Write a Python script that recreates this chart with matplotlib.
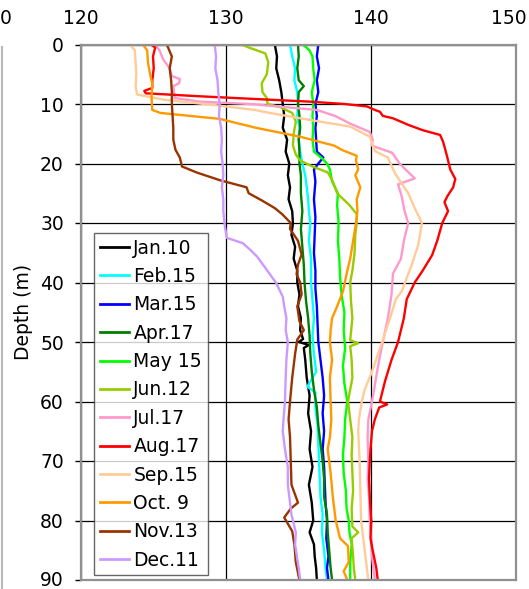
"""
Perfil de profundidade (0-90 m) para 12 datas de medicao.
Gera out.png (529x589).
"""

import numpy as np
import matplotlib
matplotlib.use("Agg")
import matplotlib.pyplot as plt
from matplotlib.lines import Line2D
from matplotlib.transforms import offset_copy

# --- DADOS: (profundidade m, valor) ---
JAN = [(0, 133.4), (2, 133.55), (4, 133.5), (6, 133.7), (8, 133.85), (10, 133.95), (12, 134.05),
       (14, 133.95), (16, 134.25), (18, 134.15), (20, 134.4), (22, 134.3), (24, 134.45), (26, 134.35),
       (28, 134.6), (30, 134.65), (32, 134.55), (34, 134.8), (36, 134.7), (38, 134.95), (40, 134.95),
       (42, 135.1), (44, 135.0), (46, 135.2), (48, 135.15), (49.5, 135.35), (50, 135.05), (50.5, 135.75),
       (51, 135.4), (53, 135.5), (56, 135.6), (59, 135.8), (62, 135.7), (65, 135.9), (68, 135.8),
       (71, 136.0), (74, 135.75), (77, 135.95), (80, 136.05), (82, 135.8), (84, 136.1), (86, 136.15),
       (88, 136.25), (90, 136.3)]
FEB = [(0, 134.45), (2, 134.6), (4, 134.8), (6, 134.75), (8, 134.95), (10, 135.0), (12, 134.95),
       (14, 135.1), (16, 135.05), (18, 135.15), (20, 135.3), (22, 135.5), (24, 135.6), (26, 135.7),
       (28, 135.75), (30, 135.85), (33, 135.75), (36, 135.9), (40, 135.9), (43, 136.0), (46, 136.1),
       (49, 136.0), (52, 136.1), (55, 136.25), (57.5, 135.65), (58.5, 136.2), (61, 136.2), (64, 136.35),
       (67, 136.4), (70, 136.45), (73, 136.5), (76, 136.55), (79, 136.7), (82, 136.65), (85, 136.8),
       (88, 136.9), (90, 137.0)]
MAR = [(0, 136.4), (2, 136.3), (4, 136.45), (6, 136.3), (8, 136.4), (10, 136.2), (12, 136.3),
       (14, 136.2), (16, 136.25), (18, 136.3), (19, 136.75), (20, 136.4), (21, 136.1), (23, 136.2),
       (26, 136.1), (29, 136.2), (32, 136.15), (35, 136.1), (38, 136.2), (41, 136.2), (44, 136.3),
       (47, 136.35), (50, 136.4), (53, 136.55), (56, 136.7), (59, 136.8), (62, 136.7), (65, 136.8),
       (68, 136.7), (71, 136.8), (74, 136.85), (77, 136.9), (80, 137.0), (83, 136.95), (86, 137.1),
       (88, 137.0), (90, 137.1)]
APR = [(0, 135.0), (2, 135.05), (4, 134.95), (6, 135.05), (7, 135.4), (8, 135.05), (10, 135.0),
       (12, 135.1), (14, 135.15), (16, 135.05), (18, 135.1), (20, 135.1), (22, 135.2), (25, 135.2),
       (28, 135.3), (31, 135.2), (34, 135.3), (37, 135.4), (40, 135.45), (43, 135.55), (46, 135.7),
       (49, 135.8), (52, 135.85), (55, 135.95), (58, 136.1), (61, 136.3), (64, 136.4), (67, 136.55),
       (70, 136.7), (73, 136.8), (76, 136.8), (79, 137.0), (82, 137.05), (85, 137.15), (88, 137.25),
       (90, 137.35)]
MAY = [(0, 135.35), (1, 135.8), (2, 136.0), (4, 136.05), (6, 136.15), (8, 135.95), (10, 136.05),
       (12, 136.0), (14, 136.05), (16, 136.0), (18, 136.1), (19, 136.6), (20, 137.0), (21, 137.2),
       (23, 137.35), (25, 137.75), (27, 137.7), (30, 137.8), (33, 137.75), (36, 137.85), (39, 137.9),
       (42, 138.0), (45, 138.2), (48, 138.15), (51, 138.25), (54, 138.1), (57, 138.2), (60, 138.4),
       (63, 138.25), (66, 138.2), (69, 138.1), (72, 138.15), (75, 138.3), (78, 138.35), (80, 138.5),
       (82, 138.55), (84, 138.7), (87, 138.6), (90, 138.6)]
JUN = [(0, 131.1), (0.5, 131.6), (1.5, 132.75), (3, 132.95), (5, 132.85), (6.5, 132.5), (8, 132.55),
       (9, 132.85), (10, 132.9), (10.5, 133.75), (11.5, 134.6), (13, 134.85), (15, 134.7), (17, 134.65),
       (18.5, 134.85), (19.5, 135.15), (20.5, 136.0), (21.5, 137.05), (23, 137.4), (25, 137.7),
       (27, 138.55), (28.5, 139.05), (30, 139.05), (32, 138.95), (35, 138.9), (38, 138.75), (40, 138.6),
       (43, 138.65), (46, 138.75), (49.7, 138.6), (50.2, 139.15), (50.7, 138.6), (53, 138.7),
       (56, 138.75), (60, 138.45), (63, 138.6), (66, 138.75), (69, 138.7), (72, 138.75), (75, 138.8),
       (78, 138.7), (81, 138.75), (82, 139.15), (83, 138.7), (86, 138.8), (88, 138.85), (90, 138.95)]
JUL = [(0, 125.15), (1, 125.45), (2.5, 125.7), (4, 126.15), (5.3, 126.3), (5.8, 126.85), (6.5, 126.8),
       (7, 126.4), (8, 126.45), (9, 126.5), (9.6, 128.2), (10, 131.7), (10.5, 134.0), (11, 136.3),
       (12, 137.55), (13.3, 138.6), (14.7, 139.95), (16, 140.15), (17, 140.1), (18.2, 141.5), (20, 142.0),
       (22.5, 143.05), (23.5, 141.9), (25.5, 142.15), (28, 142.35), (30, 142.6), (33, 142.3),
       (36, 142.1), (38.5, 141.55), (42, 141.45), (46, 141.2), (50, 140.85), (53, 140.6), (55, 140.45),
       (58, 140.25), (60, 140.1), (63, 139.85), (66, 139.8), (70, 139.85), (73, 139.8), (76, 139.9),
       (80, 139.95), (83, 140.05), (86, 140.1), (88, 140.2), (90, 140.3)]
AUG = [(0, 124.85), (0.5, 125.15), (2, 125.0), (4, 125.05), (6, 124.95), (7.3, 124.95), (7.8, 124.4),
       (8.2, 124.5), (8.7, 128.2), (9.2, 132.4), (9.6, 135.8), (10, 138.2), (10.4, 139.75), (11, 140.3),
       (11.3, 140.65), (12, 140.85), (12.4, 141.55), (13.5, 142.6), (14.4, 143.6), (15.2, 144.8),
       (16.3, 145.0), (17.6, 145.15), (19, 145.3), (21, 145.5), (22.6, 145.85), (24, 145.7),
       (25.5, 145.3), (26.5, 145.1), (28, 145.35), (30, 144.95), (33, 144.6), (35.4, 144.25),
       (38, 143.6), (40, 143.05), (42.8, 142.5), (46, 142.3), (50, 141.9), (53, 141.45), (56.6, 141.0),
       (60, 140.65), (60.5, 141.15), (61, 140.6), (63, 140.3), (65, 140.1), (68, 140.0), (70, 139.95),
       (73, 139.9), (76, 139.95), (80, 140.05), (83, 140.0), (85, 140.15), (88, 140.4), (90, 140.5)]
SEP = [(0, 123.4), (1, 123.75), (3, 123.8), (5, 123.85), (7, 123.8), (8.4, 123.9), (9.3, 125.8),
       (10.2, 129.3), (11, 132.0), (11.5, 133.05), (12.4, 135.15), (13.8, 138.6), (15.5, 139.95),
       (17.9, 140.3), (19, 141.2), (21.7, 141.7), (25, 142.6), (27.5, 143.05), (30, 143.55),
       (33.6, 143.3), (37, 142.85), (41.5, 142.15), (42.8, 141.75), (46, 141.35), (50, 140.8),
       (55, 140.1), (58, 139.6), (60, 139.4), (63, 139.2), (65, 139.15), (70, 139.25), (75, 139.3),
       (80, 139.35), (83, 139.5), (85, 139.6), (88, 139.75), (90, 139.85)]
OCT = [(0, 124.3), (1, 124.6), (3, 124.65), (5, 124.8), (6.6, 124.95), (9, 124.9), (11, 124.95),
       (11.5, 125.5), (12.5, 129.6), (14, 132.1), (15.5, 135.15), (17, 137.5), (17.8, 138.1),
       (18.7, 139.05), (19.5, 139.0), (21, 139.15), (22, 138.95), (24, 139.3), (26, 139.05),
       (28, 139.1), (30, 139.0), (33, 138.8), (36, 138.6), (38, 138.4), (41.5, 138.1), (44, 137.7),
       (46, 137.35), (48, 137.25), (50, 137.2), (53, 137.35), (56, 137.2), (60, 137.25), (63, 137.3),
       (66, 137.2), (68, 137.05), (72, 137.25), (76, 137.4), (80, 137.6), (83, 137.9), (84.3, 138.45),
       (87, 138.5), (88.5, 138.15), (90, 138.4)]
NOV = [(0, 125.95), (2, 126.3), (4, 126.15), (6, 126.25), (8, 126.3), (10, 126.3), (12, 126.35),
       (14, 126.4), (16, 126.4), (17.7, 126.55), (19, 126.85), (20.5, 127.0), (21.5, 128.0),
       (22.8, 129.6), (24, 131.45), (25, 131.6), (26.2, 132.5), (27.5, 133.4), (28.5, 133.9),
       (30, 134.5), (31, 134.45), (33, 135.0), (35.3, 135.25), (37, 135.0), (38.6, 134.9),
       (40, 135.15), (42, 135.25), (44, 134.95), (46.5, 135.1), (48, 135.4), (49.6, 134.95),
       (52, 134.8), (56, 134.6), (60, 134.45), (63, 134.35), (66, 134.45), (70, 134.5), (74, 134.55),
       (77, 135.0), (78, 134.5), (79.5, 134.05), (81.8, 134.6), (84, 134.75), (87, 134.85), (90, 135.1)]
DEC = [(0, 129.25), (2, 129.35), (4, 129.3), (6, 129.45), (8, 129.5), (10, 129.6), (12, 129.55),
       (14, 129.7), (16, 129.75), (18, 129.7), (20, 129.8), (22, 129.85), (24, 129.75), (26, 129.85),
       (28, 129.85), (30.5, 129.95), (32.5, 130.1), (33.4, 131.2), (34.5, 131.7), (35.7, 132.2),
       (37.9, 132.85), (40.1, 133.5), (42.4, 133.95), (44, 134.05), (46, 134.2), (48, 134.15),
       (50, 134.3), (53, 134.2), (56, 134.15), (60, 134.1), (63, 134.0), (65, 133.95), (68, 134.1),
       (71, 134.3), (74, 134.3), (77, 134.45), (79, 134.55), (82, 134.85), (84, 134.8), (86.5, 134.95),
       (88, 135.05), (90, 135.15)]

LABELS = ["Jan.10", "Feb.15", "Mar.15", "Apr.17", "May 15", "Jun.12",
          "Jul.17", "Aug.17", "Sep.15", "Oct. 9", "Nov.13", "Dec.11"]
SERIES = [JAN, FEB, MAR, APR, MAY, JUN, JUL, AUG, SEP, OCT, NOV, DEC]
COLORS = ["#000000", "#00FFFF", "#0000FF", "#008000", "#00FF00", "#99CC00",
          "#FF99CC", "#FF0000", "#FFCC99", "#FF9900", "#993300", "#CC99FF"]

X_TICKS = [120, 130, 140, 150]
Y_TICKS = [0, 10, 20, 30, 40, 50, 60, 70, 80, 90]

# --- FIGURA ---
plt.rcParams["font.family"] = ["DejaVu Sans"]
FS = 13.5

fig = plt.figure(figsize=(5.29, 5.89), dpi=100)
ax = fig.add_axes([80.5 / 529, 9 / 589, 435 / 529, 535.5 / 589])

for dados, cor, nome in zip(SERIES, COLORS, LABELS):
    arr = np.array(dados)
    ax.plot(arr[:, 1], arr[:, 0], color=cor, lw=1.7, label=nome)

ax.set_xlim(120, 150)
ax.set_ylim(90, 0)
ax.set_xticks(X_TICKS)
ax.set_yticks(Y_TICKS)
ax.xaxis.tick_top()
ax.tick_params(axis="x", length=0, pad=12, labelsize=FS)
ax.tick_params(axis="y", direction="out", length=4, width=1, pad=8, labelsize=FS)
ax.grid(True, color="black", lw=0.9)
for sp in ax.spines.values():
    sp.set_color("#909090")
    sp.set_linewidth(1.6)

# ajustes finos nos rotulos das pontas (150 e 90) para nao cortar na borda
ultimo = ax.get_xticklabels()[-1]
ultimo.set_transform(offset_copy(ultimo.get_transform(), fig=fig, x=-7, y=0, units="dots"))
fundo = ax.get_yticklabels()[-1]
fundo.set_transform(offset_copy(fundo.get_transform(), fig=fig, x=0, y=2, units="dots"))

ax.set_ylabel("Depth (m)", fontsize=FS, labelpad=5)

leg = ax.legend(loc="upper left", bbox_to_anchor=(0.031, 0.648), borderaxespad=0,
                fontsize=FS, frameon=True, fancybox=False, handlelength=1.55,
                handletextpad=0.25, labelspacing=0.5, borderpad=0.3)
leg.get_frame().set_edgecolor("#404040")
leg.get_frame().set_linewidth(1.0)
for h in leg.get_lines():
    h.set_linewidth(2.0)

# rotulo cortado do painel vizinho + borda cinza
fig.text(0.0, 1 - 18.5 / 589, "0", ha="left", va="center", fontsize=FS)
fig.add_artist(Line2D([1.5 / 529, 1.5 / 529], [0, 1 - 47 / 589], color="#b8b8b8", lw=1.5))

fig.savefig("out.png", dpi=100)
